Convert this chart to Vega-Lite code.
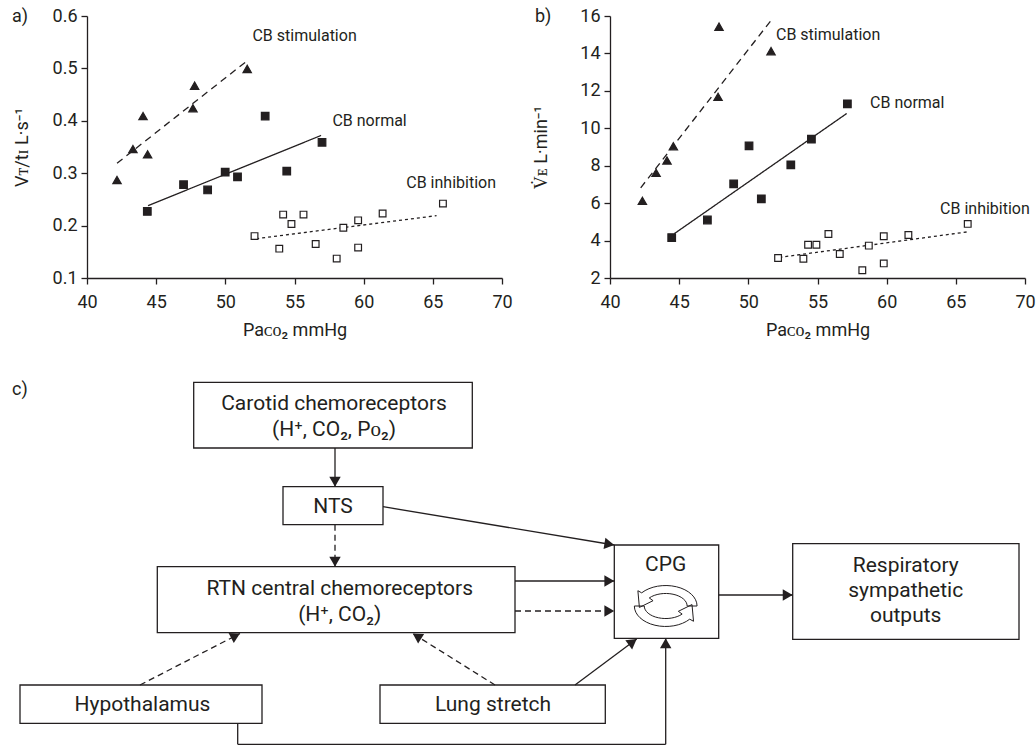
{
  "$schema": "https://vega.github.io/schema/vega-lite/v6.json",
  "padding": {"left": 12, "top": 7, "right": 0, "bottom": 0},
  "autosize": {"type": "pad"},
  "background": "white",
  "config": {
    "view": {"stroke": null},
    "font": "Roboto",
    "axis": {
      "domainColor": "#231f20", "domainWidth": 1.3, "tickColor": "#231f20", "tickWidth": 1.3, "tickSize": 6,
      "labelFont": "Roboto", "labelFontSize": 18, "labelColor": "#231f20", "labelPadding": 4,
      "titleFont": "Roboto", "titleFontSize": 18, "titleFontWeight": "normal", "titleColor": "#231f20",
      "grid": false, "labelFlush": false, "labelOverlap": false
    },
    "text": {"font": "Roboto", "color": "#231f20"}
  },
  "datasets": {
    "ptsA": [
      {"series": "stimulation", "x": 42.17, "y": 0.287},
      {"series": "stimulation", "x": 43.32, "y": 0.346},
      {"series": "stimulation", "x": 44.05, "y": 0.409},
      {"series": "stimulation", "x": 44.38, "y": 0.336},
      {"series": "stimulation", "x": 47.78, "y": 0.467},
      {"series": "stimulation", "x": 47.66, "y": 0.424},
      {"series": "stimulation", "x": 51.58, "y": 0.499},
      {"series": "normal", "x": 44.36, "y": 0.227},
      {"series": "normal", "x": 46.98, "y": 0.278},
      {"series": "normal", "x": 48.72, "y": 0.268},
      {"series": "normal", "x": 49.99, "y": 0.302},
      {"series": "normal", "x": 50.88, "y": 0.293},
      {"series": "normal", "x": 52.88, "y": 0.409},
      {"series": "normal", "x": 54.44, "y": 0.304},
      {"series": "normal", "x": 56.99, "y": 0.359},
      {"series": "inhibition", "x": 52.11, "y": 0.18},
      {"series": "inhibition", "x": 54.18, "y": 0.221},
      {"series": "inhibition", "x": 54.78, "y": 0.203},
      {"series": "inhibition", "x": 55.65, "y": 0.221},
      {"series": "inhibition", "x": 53.9, "y": 0.156},
      {"series": "inhibition", "x": 56.53, "y": 0.165},
      {"series": "inhibition", "x": 58.05, "y": 0.137},
      {"series": "inhibition", "x": 58.53, "y": 0.196},
      {"series": "inhibition", "x": 59.6, "y": 0.21},
      {"series": "inhibition", "x": 59.6, "y": 0.158},
      {"series": "inhibition", "x": 61.37, "y": 0.223},
      {"series": "inhibition", "x": 65.73, "y": 0.242}
    ],
    "fitA": [
      {"series": "stimulation", "x": 42.17, "y": 0.319},
      {"series": "stimulation", "x": 51.55, "y": 0.514},
      {"series": "normal", "x": 44.41, "y": 0.238},
      {"series": "normal", "x": 56.92, "y": 0.372},
      {"series": "inhibition", "x": 52.23, "y": 0.175},
      {"series": "inhibition", "x": 65.27, "y": 0.219}
    ],
    "labA": [
      {"x": 51.96, "y": 0.562, "text": "CB stimulation"},
      {"x": 57.74, "y": 0.4, "text": "CB normal"},
      {"x": 63.08, "y": 0.282, "text": "CB inhibition"}
    ],
    "ptsB": [
      {"series": "stimulation", "x": 42.34, "y": 6.12},
      {"series": "stimulation", "x": 43.33, "y": 7.62},
      {"series": "stimulation", "x": 44.12, "y": 8.28},
      {"series": "stimulation", "x": 44.58, "y": 9.04},
      {"series": "stimulation", "x": 47.81, "y": 11.68},
      {"series": "stimulation", "x": 47.88, "y": 15.43},
      {"series": "stimulation", "x": 51.64, "y": 14.12},
      {"series": "normal", "x": 44.46, "y": 4.16},
      {"series": "normal", "x": 47.04, "y": 5.1},
      {"series": "normal", "x": 48.94, "y": 7.03},
      {"series": "normal", "x": 50.05, "y": 9.06},
      {"series": "normal", "x": 50.94, "y": 6.23},
      {"series": "normal", "x": 53.07, "y": 8.05},
      {"series": "normal", "x": 54.56, "y": 9.42},
      {"series": "normal", "x": 57.16, "y": 11.31},
      {"series": "inhibition", "x": 52.15, "y": 3.07},
      {"series": "inhibition", "x": 53.98, "y": 3.03},
      {"series": "inhibition", "x": 54.32, "y": 3.78},
      {"series": "inhibition", "x": 54.92, "y": 3.78},
      {"series": "inhibition", "x": 55.79, "y": 4.35},
      {"series": "inhibition", "x": 56.61, "y": 3.28},
      {"series": "inhibition", "x": 58.24, "y": 2.41},
      {"series": "inhibition", "x": 58.71, "y": 3.73},
      {"series": "inhibition", "x": 59.79, "y": 4.23},
      {"series": "inhibition", "x": 59.79, "y": 2.78},
      {"series": "inhibition", "x": 61.57, "y": 4.3},
      {"series": "inhibition", "x": 65.86, "y": 4.89}
    ],
    "fitB": [
      {"series": "stimulation", "x": 42.22, "y": 6.82},
      {"series": "stimulation", "x": 51.74, "y": 15.86},
      {"series": "normal", "x": 44.65, "y": 4.37},
      {"series": "normal", "x": 57.11, "y": 10.79},
      {"series": "inhibition", "x": 52.24, "y": 3.1},
      {"series": "inhibition", "x": 65.79, "y": 4.46}
    ],
    "labB": [
      {"x": 52.0, "y": 14.96, "text": "CB stimulation"},
      {"x": 58.8, "y": 11.33, "text": "CB normal"},
      {"x": 63.86, "y": 5.71, "text": "CB inhibition"}
    ],
    "boxes": [
      {"name": "carotid", "x": 193.7, "x2": 472.3, "y": 382.3, "y2": 448},
      {"name": "nts", "x": 283, "x2": 383, "y": 486.7, "y2": 524.7},
      {"name": "rtn", "x": 157.3, "x2": 515, "y": 566.7, "y2": 632.7},
      {"name": "hypo", "x": 20, "x2": 262, "y": 685, "y2": 723.3},
      {"name": "lung", "x": 380, "x2": 605.3, "y": 685, "y2": 723.3},
      {"name": "cpg", "x": 614.3, "x2": 718.7, "y": 545, "y2": 638.3},
      {"name": "resp", "x": 792.7, "x2": 1019, "y": 543.7, "y2": 639.3}
    ],
    "links": [
      {"x": 335, "y": 448, "x2": 335, "y2": 486.7, "style": "solid", "head": true},
      {"x": 335, "y": 524.7, "x2": 335, "y2": 566.7, "style": "dashed", "head": true},
      {"x": 383, "y": 506.7, "x2": 614.3, "y2": 545, "style": "solid", "head": true},
      {"x": 515, "y": 581, "x2": 614.3, "y2": 581, "style": "solid", "head": true},
      {"x": 515, "y": 611, "x2": 614.3, "y2": 611, "style": "dashed", "head": true},
      {"x": 140, "y": 685, "x2": 240, "y2": 633.5, "style": "dashed", "head": true},
      {"x": 495, "y": 685, "x2": 412.7, "y2": 633.5, "style": "dashed", "head": true},
      {"x": 575, "y": 685, "x2": 636.7, "y2": 639, "style": "solid", "head": true},
      {"x": 237.7, "y": 723.3, "x2": 237.7, "y2": 744.3, "style": "solid", "head": false},
      {"x": 237.7, "y": 744.3, "x2": 665.7, "y2": 744.3, "style": "solid", "head": false},
      {"x": 665.7, "y": 744.3, "x2": 665.7, "y2": 638.3, "style": "solid", "head": true},
      {"x": 718.7, "y": 595, "x2": 792.7, "y2": 595, "style": "solid", "head": true}
    ],
    "texts": [
      {"x": 334, "y": 404.3, "text": "Carotid chemoreceptors"},
      {"x": 334, "y": 430, "text": "(H⁺, CO₂, Pᴏ₂)"},
      {"x": 333, "y": 506.7, "text": "NTS"},
      {"x": 339.7, "y": 588.7, "text": "RTN central chemoreceptors"},
      {"x": 339.7, "y": 615, "text": "(H⁺, CO₂)"},
      {"x": 142.5, "y": 705, "text": "Hypothalamus"},
      {"x": 493, "y": 705, "text": "Lung stretch"},
      {"x": 665.7, "y": 565, "text": "CPG"},
      {"x": 905.7, "y": 565.7, "text": "Respiratory"},
      {"x": 905.7, "y": 591, "text": "sympathetic"},
      {"x": 905.7, "y": 615.7, "text": "outputs"}
    ],
    "panels": [
      {"x": 12, "y": 17, "text": "a)"},
      {"x": 535, "y": 17, "text": "b)"},
      {"x": 12, "y": 390, "text": "c)"}
    ],
    "icon": [
      {"x": 665.7, "y": 606}
    ]
  },
  "bounds": "flush",
  "columns": 2,
  "spacing": {"row": 62, "column": 108},
  "concat": [
    {
      "width": 415,
      "height": 262,
      "encoding": {
        "x": {"field": "x", "type": "quantitative", "scale": {"domain": [40, 70], "nice": false, "zero": false},
              "axis": {"values": [40, 45, 50, 55, 60, 65, 70], "title": "Paᴄᴏ₂ mmHg", "labelPadding": 9, "titlePadding": 10}},
        "y": {"field": "y", "type": "quantitative", "scale": {"domain": [0.1, 0.6], "nice": false, "zero": false},
              "axis": {"values": [0.1, 0.2, 0.3, 0.4, 0.5, 0.6], "format": ".1f", "title": "Vᴛ/tɪ L·s⁻¹", "titlePadding": 21}}
      },
      "layer": [
        {
          "data": {"name": "fitA"},
          "mark": {"type": "line", "strokeWidth": 1.3, "color": "#231f20"},
          "encoding": {
            "detail": {"field": "series"},
            "strokeDash": {"field": "series", "type": "nominal", "scale": {"domain": ["stimulation", "normal", "inhibition"], "range": [[7, 5], [1, 0], [3, 3]]}, "legend": null}
          }
        },
        {
          "data": {"name": "ptsA"},
          "mark": {"type": "point", "filled": true, "opacity": 1, "stroke": "#231f20", "strokeWidth": 1.2},
          "encoding": {
            "shape": {"field": "series", "type": "nominal", "scale": {"domain": ["stimulation", "normal", "inhibition"], "range": ["triangle-up", "square", "square"]}, "legend": null},
            "fill": {"field": "series", "type": "nominal", "scale": {"domain": ["stimulation", "normal", "inhibition"], "range": ["#231f20", "#231f20", "#ffffff"]}, "legend": null},
            "size": {"field": "series", "type": "nominal", "scale": {"domain": ["stimulation", "normal", "inhibition"], "range": [70, 45, 30]}, "legend": null}
          }
        },
        {
          "data": {"name": "labA"},
          "mark": {"type": "text", "align": "left", "baseline": "middle", "fontSize": 16},
          "encoding": {"text": {"field": "text"}}
        }
      ]
    },
    {
      "width": 415,
      "height": 262,
      "encoding": {
        "x": {"field": "x", "type": "quantitative", "scale": {"domain": [40, 70], "nice": false, "zero": false},
              "axis": {"values": [40, 45, 50, 55, 60, 65, 70], "title": "Paᴄᴏ₂ mmHg", "labelPadding": 9, "titlePadding": 10}},
        "y": {"field": "y", "type": "quantitative", "scale": {"domain": [2, 16], "nice": false, "zero": false},
              "axis": {"values": [2, 4, 6, 8, 10, 12, 14, 16], "title": "V̇ᴇ L·min⁻¹", "titlePadding": 29}}
      },
      "layer": [
        {
          "data": {"name": "fitB"},
          "mark": {"type": "line", "strokeWidth": 1.3, "color": "#231f20"},
          "encoding": {
            "detail": {"field": "series"},
            "strokeDash": {"field": "series", "type": "nominal", "scale": {"domain": ["stimulation", "normal", "inhibition"], "range": [[7, 5], [1, 0], [3, 3]]}, "legend": null}
          }
        },
        {
          "data": {"name": "ptsB"},
          "mark": {"type": "point", "filled": true, "opacity": 1, "stroke": "#231f20", "strokeWidth": 1.2},
          "encoding": {
            "shape": {"field": "series", "type": "nominal", "scale": {"domain": ["stimulation", "normal", "inhibition"], "range": ["triangle-up", "square", "square"]}, "legend": null},
            "fill": {"field": "series", "type": "nominal", "scale": {"domain": ["stimulation", "normal", "inhibition"], "range": ["#231f20", "#231f20", "#ffffff"]}, "legend": null},
            "size": {"field": "series", "type": "nominal", "scale": {"domain": ["stimulation", "normal", "inhibition"], "range": [70, 45, 30]}, "legend": null}
          }
        },
        {
          "data": {"name": "labB"},
          "mark": {"type": "text", "align": "left", "baseline": "middle", "fontSize": 16},
          "encoding": {"text": {"field": "text"}}
        }
      ]
    },
    {
      "width": 415,
      "height": 406,
      "encoding": {
        "x": {"field": "x", "type": "quantitative", "scale": {"domain": [87, 502], "nice": false, "zero": false}, "axis": null},
        "y": {"field": "y", "type": "quantitative", "scale": {"domain": [340, 746], "nice": false, "zero": false, "reverse": true}, "axis": null}
      },
      "layer": [
        {
          "data": {"name": "boxes"},
          "mark": {"type": "rect", "fill": "#ffffff", "stroke": "#231f20", "strokeWidth": 1.3},
          "encoding": {
            "x2": {"field": "x2"},
            "y2": {"field": "y2"}
          }
        },
        {
          "data": {"name": "links"},
          "transform": [{"filter": "datum.style == 'solid'"}],
          "mark": {"type": "rule", "color": "#231f20", "strokeWidth": 1.3},
          "encoding": {
            "x2": {"field": "x2"},
            "y2": {"field": "y2"}
          }
        },
        {
          "data": {"name": "links"},
          "transform": [{"filter": "datum.style == 'dashed'"}],
          "mark": {"type": "rule", "color": "#231f20", "strokeWidth": 1.3, "strokeDash": [6, 4]},
          "encoding": {
            "x2": {"field": "x2"},
            "y2": {"field": "y2"}
          }
        },
        {
          "data": {"name": "links"},
          "transform": [
            {"filter": "datum.head"},
            {"calculate": "datum.x2 - datum.x", "as": "dx"},
            {"calculate": "datum.y2 - datum.y", "as": "dy"},
            {"calculate": "sqrt(datum.dx*datum.dx + datum.dy*datum.dy)", "as": "len"},
            {"calculate": "datum.x2 - 5*datum.dx/datum.len", "as": "hx"},
            {"calculate": "datum.y2 - 5*datum.dy/datum.len", "as": "hy"},
            {"calculate": "atan2(datum.dx, -datum.dy)*180/PI", "as": "ang"}
          ],
          "mark": {"type": "point", "shape": "triangle-up", "filled": true, "color": "#231f20", "opacity": 1, "size": 130},
          "encoding": {
            "x": {"field": "hx", "type": "quantitative"},
            "y": {"field": "hy", "type": "quantitative"},
            "angle": {"field": "ang", "type": "quantitative", "scale": null}
          }
        },
        {
          "data": {"name": "texts"},
          "mark": {"type": "text", "align": "center", "baseline": "middle", "fontSize": 21},
          "encoding": {"text": {"field": "text"}}
        },
        {
          "data": {"name": "panels"},
          "mark": {"type": "text", "align": "left", "baseline": "middle", "fontSize": 18},
          "encoding": {"text": {"field": "text"}}
        },
        {
          "data": {"name": "icon"},
          "mark": {
            "type": "point", "filled": false, "stroke": "#231f20", "strokeWidth": 1, "opacity": 1, "size": 4356,
            "shape": "M0.95,0 A0.95,0.62 0 0,0 -0.728,-0.399 L-0.843,-0.463 L-0.797,0.044 L-0.383,-0.161 L-0.498,-0.244 A0.65,0.38 0 0,1 0.65,0 Z M-0.95,0 A0.95,0.62 0 0,0 0.728,0.399 L0.843,0.463 L0.797,-0.044 L0.383,0.161 L0.498,0.244 A0.65,0.38 0 0,1 -0.65,0 Z"
          }
        }
      ]
    }
  ]
}
